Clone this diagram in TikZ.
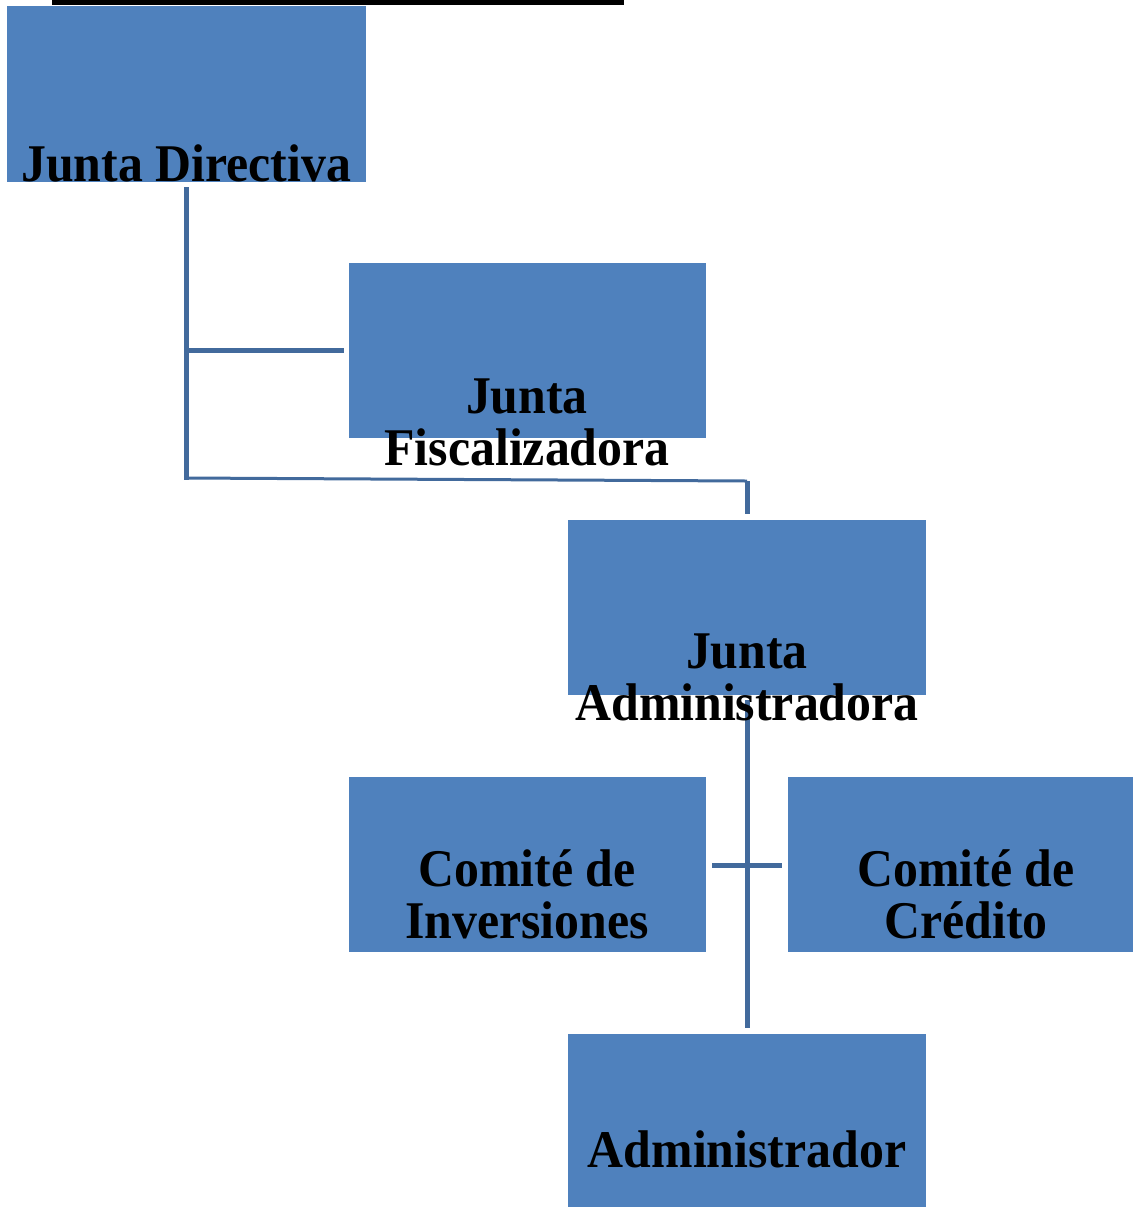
\documentclass[tikz,border=0pt]{standalone}
\usepackage{fontspec}
\setmainfont{Liberation Serif}[FakeStretch=0.94]
\begin{document}
\begin{tikzpicture}[x=0.5pt, y=-0.5pt,
  box/.style={fill={rgb,255:red,79;green,129;blue,189}, draw=none, inner sep=0, outer sep=0},
  lbl/.style={font=\fontsize{26.5}{26}\selectfont\bfseries, align=center, anchor=base, inner sep=0},
  conn/.style={draw={rgb,255:red,66;green,106;blue,156}, line width=2.5pt}]
\useasboundingbox (0,0) rectangle (1133,1207);
\fill[black] (52,-1) rectangle (624,5);
\node[box, minimum width=179.5pt, minimum height=88pt, anchor=north west] (jd) at (7,6){};
\node[box, minimum width=178.5pt, minimum height=87.5pt, anchor=north west] (jf) at (349,263){};
\node[box, minimum width=179pt, minimum height=87.5pt, anchor=north west] (ja) at (568,520){};
\node[box, minimum width=178.5pt, minimum height=87.5pt, anchor=north west] (ci) at (349,777){};
\node[box, minimum width=172.5pt, minimum height=87.5pt, anchor=north west] (cc) at (788,777){};
\node[box, minimum width=179pt, minimum height=87pt, anchor=north west] (ad) at (568,1034){};
\coordinate (p1) at (186,187);
\coordinate (p2) at (186,480);
\coordinate (p3) at (186,350);
\coordinate (p4) at (344,350);
\coordinate (p5) at (747,481);
\coordinate (p6) at (747,514);
\coordinate (p7) at (747,700);
\coordinate (p8) at (747,1028);
\coordinate (p9) at (712,865);
\coordinate (p10) at (782,865);
\draw[conn] (p1) -- (p2);
\draw[conn] (p3) -- (p4);
\draw[conn, line width=1.5pt] (186,478) -- (p5);
\draw[conn] (p5) -- (p6);
\draw[conn] (p7) -- (p8);
\draw[conn] (p9) -- (p10);
\node[lbl] (tjd) at (186,181) {Junta Directiva};
\node[lbl] (tjf) at (527,465) {Junta\\Fiscalizadora};
\node[lbl] (tja) at (747,720) {Junta\\Administradora};
\node[lbl] (tci) at (527,938) {Comité de\\Inversiones};
\node[lbl] (tcc) at (966,938) {Comité de\\Crédito};
\node[lbl] (tad) at (747,1167) {Administrador};
\end{tikzpicture}
\end{document}
